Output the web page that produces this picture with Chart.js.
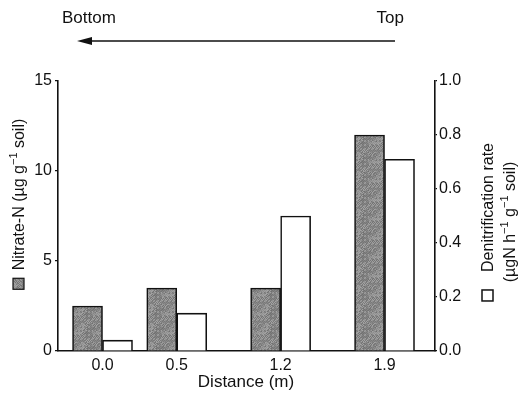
<!DOCTYPE html>
<html>
<head>
<meta charset="utf-8">
<script src="https://cdn.jsdelivr.net/npm/chart.js@4"></script>
<style>
  html, body { margin: 0; padding: 0; background: #fff; }
  #wrap { width: 524px; height: 396px; }
</style>
</head>
<body>
<div id="wrap"><canvas id="chart" width="524" height="396"></canvas></div>
<script>
// values
const distances = [0.0, 0.5, 1.2, 1.9];
const nitrateN = [2.5, 3.5, 3.5, 12.0];
const denitrificationRate = [0.04, 0.14, 0.5, 0.71];
const leftTicks = [0, 5, 10, 15];
const rightTicks = [0, 0.2, 0.4, 0.6, 0.8, 1.0];

const FONT = '"Liberation Sans", Arial, sans-serif';

// speckled grey fill like the printed bars (fixed hash, no randomness)
function makeSpeckle() {
    const c = document.createElement('canvas');
    c.width = 23; c.height = 19;
    const g = c.getContext('2d');
    for (let y = 0; y < 19; y++) {
        for (let x = 0; x < 23; x++) {
            const v = 112 + ((x * 37 + y * 91 + x * y * 13 + (x ^ y) * 7) % 53);
            g.fillStyle = 'rgb(' + v + ',' + v + ',' + v + ')';
            g.fillRect(x, y, 1, 1);
        }
    }
    return document.getElementById('chart').getContext('2d').createPattern(c, 'repeat');
}
const speckle = makeSpeckle();

// text with superscript parts, drawn left to right from x
function richWidth(ctx, parts) {
    let w = 0;
    parts.forEach(p => {
        ctx.font = (p.sup ? '11px ' : '16px ') + FONT;
        w += ctx.measureText(p.t).width;
    });
    return w;
}
function drawRich(ctx, parts, x, y) {
    parts.forEach(p => {
        ctx.font = (p.sup ? '11px ' : '16px ') + FONT;
        ctx.fillText(p.t, x, p.sup ? y - 7 : y);
        x += ctx.measureText(p.t).width;
    });
}

const decorations = {
    id: 'decorations',
    afterDraw(chart) {
        const ctx = chart.ctx;
        ctx.save();
        ctx.fillStyle = '#111';
        ctx.strokeStyle = '#111';
        ctx.textBaseline = 'middle';

        // direction arrow at the top
        ctx.font = '17px ' + FONT;
        ctx.textAlign = 'left';
        ctx.fillText('Bottom', 62, 18);
        ctx.textAlign = 'right';
        ctx.fillText('Top', 404, 18);
        ctx.lineWidth = 1.6;
        ctx.beginPath();
        ctx.moveTo(395, 41);
        ctx.lineTo(86, 41);
        ctx.stroke();
        ctx.beginPath();
        ctx.moveTo(77, 41);
        ctx.lineTo(92, 37);
        ctx.lineTo(92, 45);
        ctx.closePath();
        ctx.fill();

        // x axis title
        ctx.font = '17px ' + FONT;
        ctx.textAlign = 'center';
        ctx.fillText('Distance (m)', 246, 382);

        ctx.textAlign = 'left';
        ctx.textBaseline = 'alphabetic';

        // left title with filled legend square
        const leftParts = [{ t: 'Nitrate-N (µg g' }, { t: '−1', sup: true }, { t: ' soil)' }];
        ctx.save();
        ctx.translate(24, 204);
        ctx.rotate(-Math.PI / 2);
        let tw = richWidth(ctx, leftParts);
        let start = -(11 + 8 + tw) / 2;
        ctx.fillStyle = speckle;
        ctx.fillRect(start, -11, 11, 11);
        ctx.lineWidth = 1.2;
        ctx.strokeRect(start, -11, 11, 11);
        ctx.fillStyle = '#111';
        drawRich(ctx, leftParts, start + 19, 0);
        ctx.restore();

        // right title, two lines, open legend square
        const line1 = [{ t: 'Denitrification rate' }];
        const line2 = [{ t: '(µgN h' }, { t: '−1', sup: true }, { t: ' g' }, { t: '−1', sup: true }, { t: ' soil)' }];
        ctx.save();
        ctx.translate(493, 222);
        ctx.rotate(-Math.PI / 2);
        tw = richWidth(ctx, line1);
        start = -(11 + 18 + tw) / 2;
        ctx.fillStyle = '#fff';
        ctx.fillRect(start, -11, 11, 11);
        ctx.lineWidth = 1.5;
        ctx.strokeRect(start, -11, 11, 11);
        ctx.fillStyle = '#111';
        drawRich(ctx, line1, start + 29, 0);
        tw = richWidth(ctx, line2);
        drawRich(ctx, line2, -tw / 2, 22);
        ctx.restore();

        ctx.restore();
    }
};

const ctx = document.getElementById('chart').getContext('2d');
new Chart(ctx, {
    type: 'bar',
    data: {
        datasets: [{
            label: 'Nitrate-N',
            data: distances.map((d, i) => ({ x: d, y: nitrateN[i] })),
            backgroundColor: speckle,
            borderColor: '#111',
            borderWidth: 1.6,
            barThickness: 30,
            yAxisID: 'y'
        }, {
            label: 'Denitrification rate',
            data: distances.map((d, i) => ({ x: d, y: denitrificationRate[i] })),
            backgroundColor: '#fff',
            borderColor: '#111',
            borderWidth: 1.6,
            barThickness: 30,
            yAxisID: 'y2'
        }]
    },
    options: {
        responsive: false,
        animation: false,
        layout: { padding: { top: 81, left: 0, right: 0, bottom: 0 } },
        plugins: {
            legend: { display: false },
            tooltip: { enabled: false }
        },
        scales: {
            x: {
                type: 'linear',
                min: -0.3,
                max: 2.24,
                offset: false,
                z: 1,
                grid: { display: false, drawTicks: false, offset: false },
                border: { display: true, color: '#111', width: 1.6 },
                afterBuildTicks: scale => { scale.ticks = distances.map(v => ({ value: v })); },
                afterFit: scale => { scale.height = 45; },
                ticks: {
                    autoSkip: false,
                    maxRotation: 0,
                    padding: 5,
                    color: '#111',
                    font: { family: FONT, size: 16 },
                    callback: v => Number(v).toFixed(1)
                }
            },
            y: {
                position: 'left',
                min: 0,
                max: 15,
                z: 1,
                afterBuildTicks: scale => { scale.ticks = leftTicks.map(v => ({ value: v })); },
                afterFit: scale => { scale.width = 58; },
                grid: { display: true, drawOnChartArea: false, drawTicks: true, tickLength: 3, color: '#111', lineWidth: 1.2 },
                border: { display: true, color: '#111', width: 1.6 },
                ticks: {
                    padding: 3,
                    color: '#111',
                    font: { family: FONT, size: 16 }
                }
            },
            y2: {
                position: 'right',
                min: 0,
                max: 1,
                z: 1,
                afterBuildTicks: scale => { scale.ticks = rightTicks.map(v => ({ value: v })); },
                afterFit: scale => { scale.width = 89; },
                grid: { display: true, drawOnChartArea: false, drawTicks: true, tickLength: 2, color: '#111', lineWidth: 1.2 },
                border: { display: true, color: '#111', width: 1.6 },
                ticks: {
                    padding: 2,
                    color: '#111',
                    font: { family: FONT, size: 16 },
                    callback: v => Number(v).toFixed(1)
                }
            }
        }
    },
    plugins: [decorations]
});
</script>
</body>
</html>
